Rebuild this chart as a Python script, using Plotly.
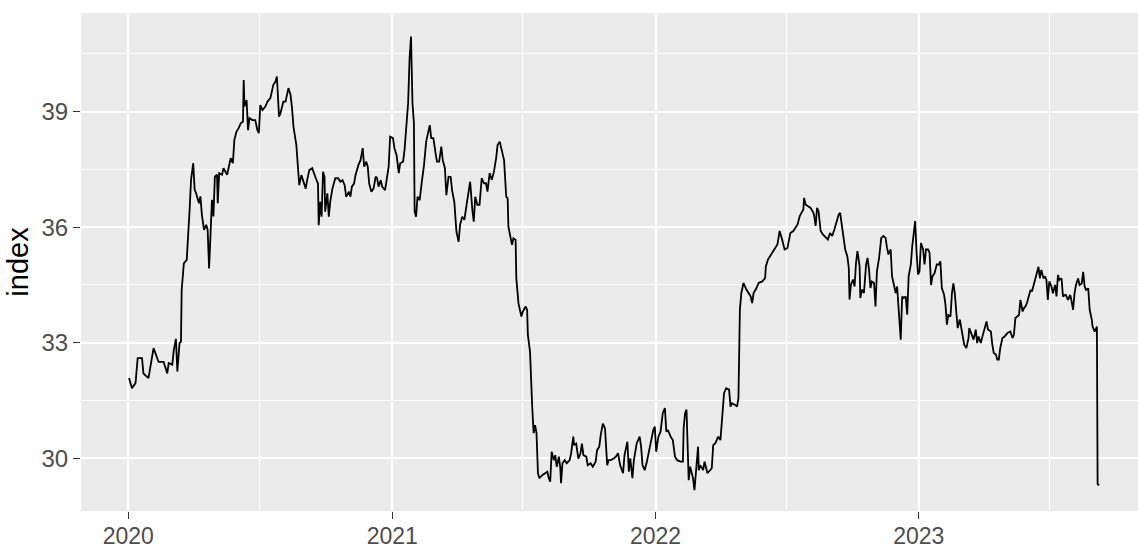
import pandas as pd
import plotly.graph_objects as go

# Days elapsed since 2020-01-01 and index value
day_offset = [
    1, 5, 10, 13, 19, 21, 28, 33, 35, 42, 49, 54, 56, 61, 63, 66, 68, 71, 73, 74,
    77, 81, 83, 85, 87, 90, 92, 94, 98, 100, 102, 105, 108, 110, 112, 114, 116, 118, 120, 123,
    124, 126, 130, 132, 137, 142, 145, 147, 150, 153, 156, 159, 160, 161, 164, 166, 168, 172, 176, 179,
    181, 183, 186, 190, 193, 197, 201, 204, 206, 209, 211, 215,
    218, 222, 225, 227, 229, 233, 235, 237, 240, 243, 246, 248, 251, 255, 257, 260, 263, 264, 266, 268,
    270, 272, 273, 276, 278, 280, 283, 287, 291, 294, 297, 300, 302, 306, 308, 310, 313, 315, 319, 322,
    325, 327, 330, 332, 334, 337, 340, 343, 345, 347, 350, 352, 356, 359, 361, 363, 367, 369, 372, 375,
    377, 381, 383, 386, 388, 390, 392, 394, 396, 397, 399, 401, 404, 407, 410, 413, 416, 418, 420, 423,
    426, 428, 431, 434, 436, 439, 441, 444,
    447, 449, 452, 455, 458, 460, 463, 466, 469, 472, 474, 477, 479, 481, 484, 487, 490, 493, 496, 498,
    501, 504, 507, 510, 512, 515, 518, 521, 524, 526, 527, 530, 532, 534, 537, 538, 541, 545, 547, 551,
    553, 554, 557, 560, 562, 564, 566, 568, 570, 574, 577, 581, 583, 585, 587, 590, 592, 594, 597, 599,
    600, 602, 605, 608, 612, 614, 617, 618, 621, 624, 627, 629, 631, 635, 637, 641, 644, 648, 650, 653,
    655, 658, 661, 664, 666, 669, 673,
    676, 679, 682, 686, 688, 692, 694, 696, 699, 701, 703, 705, 709, 711, 713, 716, 719, 722, 725, 728,
    730, 732, 735, 738, 741, 744, 746, 748, 752, 755, 758, 761, 766, 769, 770, 772, 774, 775, 777, 779,
    783, 785, 787, 790, 791, 793, 797, 799, 803, 806, 809, 811, 814, 818, 821, 823, 826, 829, 833, 835,
    837, 841, 844, 846, 848, 850, 853, 857, 859, 863, 865, 867, 871, 874, 879, 883, 884, 887, 890, 894,
    896, 900, 902, 903,
    906, 910, 914, 916, 918, 922, 925, 928, 931, 933, 936, 937, 939, 942, 946, 950, 951, 953, 955, 957,
    960, 963, 967, 970, 973, 976, 979, 982, 985, 987, 989, 991, 994, 997, 999, 1000, 1002, 1005, 1007, 1009,
    1011, 1014, 1015, 1017, 1020, 1023, 1025, 1027, 1029, 1031, 1034, 1036, 1038, 1041, 1044, 1047, 1050, 1052, 1054, 1057,
    1059, 1061, 1064, 1066, 1068, 1071, 1073, 1075, 1078, 1080, 1082, 1085, 1087, 1089, 1091, 1093, 1095, 1097, 1099, 1102,
    1104, 1106, 1109, 1111, 1113, 1115, 1118, 1121, 1124, 1126, 1128, 1131,
    1133, 1135, 1137, 1140, 1142, 1144, 1146, 1148, 1150, 1153, 1155, 1159, 1162, 1165, 1166, 1169, 1172, 1175, 1177, 1179,
    1182, 1185, 1188, 1190, 1192, 1196, 1198, 1200, 1203, 1205, 1207, 1209, 1212, 1215, 1219, 1223, 1226, 1228, 1230, 1233,
    1235, 1237, 1240, 1242, 1244, 1246, 1249, 1251, 1253, 1256, 1259, 1262, 1264, 1266, 1269, 1271, 1273, 1275, 1277, 1280,
    1282, 1285, 1287, 1289, 1291, 1294, 1296, 1299, 1300, 1303, 1306, 1308, 1310, 1312, 1314, 1317, 1319, 1322, 1324, 1326,
    1328, 1331, 1333, 1336, 1337, 1340, 1343, 1344, 1346,
]

index_values = [
    32.08, 31.82, 31.95, 32.6, 32.6, 32.2, 32.08, 32.64, 32.86, 32.5, 32.5, 32.2, 32.47, 32.43, 32.8, 33.1, 32.25, 32.99, 33.03, 34.37,
    35.06, 35.15, 35.67, 36.45, 37.23, 37.66, 36.97, 36.88, 36.62, 36.8, 36.32, 35.93, 36.06, 35.93, 34.93, 35.93, 36.71, 36.28, 37.31, 37.36,
    36.62, 37.4, 37.36, 37.53, 37.36, 37.79, 37.66, 38.26, 38.48, 38.57, 38.7, 38.74, 39.82, 39.13, 39.3, 38.52, 38.83, 38.78, 38.78, 38.52,
    38.44, 39.17, 39.04, 39.13, 39.26, 39.35, 39.69, 39.78, 39.91, 38.87, 38.96, 39.26,
    39.26, 39.61, 39.43, 39.09, 38.61, 38.13, 37.66, 37.09, 37.35, 37.18, 37.0, 37.22, 37.48, 37.53, 37.4, 37.27, 37.13, 36.05, 36.66, 36.27,
    37.44, 37.31, 36.4, 36.88, 36.27, 36.66, 37.0, 37.27, 37.27, 37.18, 37.22, 37.09, 36.79, 36.92, 36.79, 37.05, 37.13, 37.35, 37.61, 37.74,
    38.05, 37.57, 37.7, 37.57, 37.13, 36.92, 37.0, 37.31, 37.27, 37.05, 37.22, 37.05, 36.96, 37.31, 37.57, 38.35, 38.31, 38.05, 37.87, 37.4,
    37.66, 37.7, 38.0, 38.74, 39.22, 40.39, 40.95, 39.22, 38.7, 36.4, 36.27, 36.79, 36.7, 37.18, 37.61, 38.22, 38.44, 38.65, 38.31, 38.31,
    37.92, 37.7, 37.7, 38.09, 37.74, 37.53, 36.83, 37.31,
    37.3, 36.95, 36.66, 35.88, 35.62, 36.06, 36.27, 36.19, 36.58, 36.88, 37.18, 36.45, 36.14, 36.79, 36.58, 36.58, 37.27, 37.14, 37.14, 36.92,
    37.4, 37.23, 37.44, 37.79, 38.13, 38.22, 38.0, 37.74, 36.79, 36.75, 36.01, 35.71, 35.54, 35.71, 35.67, 34.67, 34.02, 33.68, 33.81, 33.94,
    33.85, 33.2, 32.77, 31.34, 30.65, 30.86, 30.65, 29.61, 29.48, 29.56, 29.61, 29.65, 29.48, 29.39, 30.17, 29.95, 30.08, 29.78, 30.04, 29.74,
    29.35, 29.87, 29.95, 29.87, 29.95, 30.13, 30.56, 30.34, 30.38, 29.99, 30.13, 30.38, 30.08, 30.04, 29.82, 29.87, 29.78, 29.91, 30.21, 30.3,
    30.6, 30.9, 30.77, 29.82, 29.95, 29.95, 29.99,
    30.04, 30.13, 29.82, 29.61, 30.08, 30.43, 29.65, 30.0, 29.48, 29.95, 30.21, 30.39, 30.56, 30.3, 29.82, 29.69, 29.91, 30.17, 30.39, 30.74,
    30.82, 30.17, 30.56, 30.69, 31.17, 31.3, 30.69, 30.74, 30.56, 30.47, 30.04, 29.95, 29.91, 29.91, 30.78, 31.17, 31.26, 30.39, 29.43, 29.78,
    29.48, 29.17, 29.69, 30.3, 29.69, 29.82, 29.69, 29.91, 29.61, 29.69, 29.74, 30.34, 30.39, 30.56, 30.47, 30.95, 31.69, 31.82, 31.78, 31.34,
    31.43, 31.39, 31.34, 31.56, 33.86, 34.29, 34.55, 34.38, 34.33, 34.2, 34.03, 34.29, 34.42, 34.55, 34.59, 34.68, 34.98, 35.16, 35.25, 35.38,
    35.42, 35.55, 35.77, 35.9,
    35.72, 35.42, 35.46, 35.72, 35.85, 35.9, 35.98, 36.07, 36.29, 36.37, 36.46, 36.76, 36.59, 36.55, 36.5, 36.37, 36.29, 36.03, 36.5, 36.42,
    35.9, 35.81, 35.72, 35.68, 35.85, 35.77, 35.94, 36.16, 36.33, 36.37, 36.11, 35.94, 35.42, 35.24, 34.94, 34.12, 34.51, 34.64, 34.46, 35.07,
    35.38, 34.98, 34.16, 34.38, 34.29, 35.03, 35.2, 34.9, 34.42, 34.59, 34.55, 33.94, 34.85, 35.2, 35.72, 35.77, 35.72, 35.46, 35.29, 35.42,
    34.72, 34.55, 34.29, 34.46, 33.9, 33.08, 34.2, 34.16, 34.2, 33.73, 34.72, 35.03, 35.51, 35.94, 36.16, 35.33, 34.77, 34.85, 35.59, 35.42,
    35.03, 35.42, 35.42, 35.33, 34.5, 34.72, 34.81, 35.03, 35.03, 35.11, 34.42, 34.25,
    34.0, 33.47, 33.72, 33.68, 34.28, 34.54, 34.28, 33.81, 33.38, 33.6, 33.38, 32.95, 32.86, 33.12, 33.38, 33.25, 33.08, 33.34, 32.99, 33.16,
    32.99, 33.21, 33.38, 33.55, 33.34, 33.29, 32.95, 32.73, 32.69, 32.56, 32.56, 32.86, 33.12, 33.16, 33.25, 33.29, 33.12, 33.21, 33.64, 33.68,
    33.72, 34.11, 33.81, 33.9, 33.94, 34.03, 34.28, 34.37, 34.33, 34.59, 34.76, 34.97, 34.67, 34.89, 34.67, 34.72, 34.63, 34.11, 34.59, 34.46,
    34.28, 34.5, 34.2, 34.76, 34.63, 34.67, 34.2, 34.24, 34.24, 34.11, 34.24, 34.07, 33.85, 34.28, 34.5, 34.67, 34.5, 34.54, 34.84, 34.46,
    34.37, 34.41, 33.85, 33.59, 33.42, 33.29, 33.42, 29.33, 29.3,
]

year_ticks = ["2020-01-01", "2021-01-01", "2022-01-01", "2023-01-01"]
year_labels = ["2020", "2021", "2022", "2023"]
midyear_lines = ["2020-07-01", "2021-07-01", "2022-07-01", "2023-07-01"]
y_ticks = [30, 33, 36, 39]
y_minor = [31.5, 34.5, 37.5, 40.5]

origin = pd.Timestamp("2020-01-01")
dates = origin + pd.to_timedelta(day_offset, unit="D")

x_lo = (origin + pd.Timedelta(days=-65.6)).strftime("%Y-%m-%d %H:%M:%S")
x_hi = (origin + pd.Timedelta(days=1400)).strftime("%Y-%m-%d %H:%M:%S")

fig = go.Figure()
fig.add_trace(go.Scatter(
    x=dates, y=index_values, mode="lines",
    line=dict(color="black", width=1.8),
    showlegend=False, hoverinfo="x+y",
))

font_family = "Arial, Liberation Sans, sans-serif"

fig.update_layout(
    width=1138, height=550,
    margin=dict(l=81, r=0, t=13, b=39, autoexpand=False),
    paper_bgcolor="white",
    plot_bgcolor="#EBEBEB",
    font=dict(family=font_family, color="#4D4D4D"),
)

fig.update_xaxes(
    type="date",
    range=[x_lo, x_hi],
    tickmode="array", tickvals=year_ticks, ticktext=year_labels,
    ticks="outside", ticklen=7, tickwidth=1.3, tickcolor="#333333",
    tickfont=dict(size=23, color="#4D4D4D", family=font_family),
    ticklabelstandoff=-3,
    showgrid=True, gridcolor="white", gridwidth=2.2,
    minor=dict(tickmode="array", tickvals=midyear_lines, showgrid=True,
               gridcolor="white", gridwidth=1.1, ticks=""),
    zeroline=False, showline=False, automargin=False,
)

fig.update_yaxes(
    range=[28.63, 41.56],
    tickmode="array", tickvals=y_ticks, ticktext=[str(v) for v in y_ticks],
    ticks="outside", ticklen=7, tickwidth=1.3, tickcolor="#333333",
    tickfont=dict(size=24, color="#4D4D4D", family=font_family),
    showgrid=True, gridcolor="white", gridwidth=2.2,
    minor=dict(tickmode="array", tickvals=y_minor, showgrid=True,
               gridcolor="white", gridwidth=1.1, ticks=""),
    zeroline=False, showline=False, automargin=False,
    title=dict(text="index", font=dict(size=29, color="black", family=font_family), standoff=4),
)

fig.write_html(
    "out.html",
    config={"displayModeBar": False},
    post_script="document.body.style.margin='0px';document.body.style.overflow='hidden';",
)
